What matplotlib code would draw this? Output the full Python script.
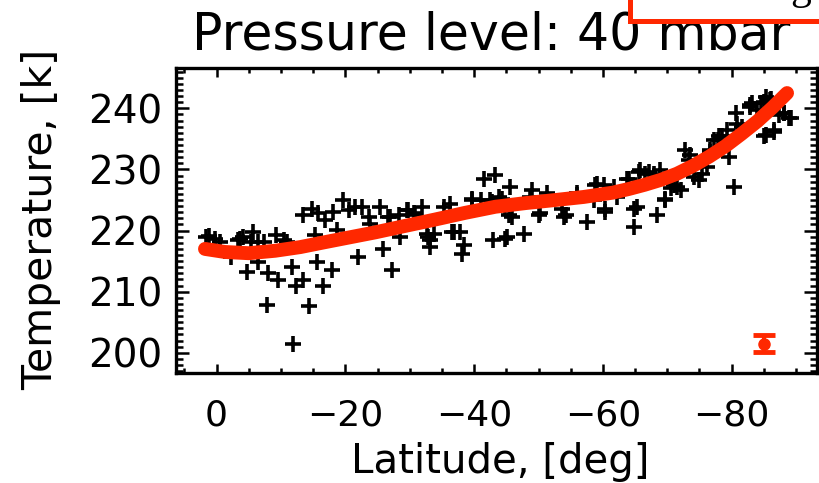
import matplotlib
matplotlib.use("Agg")
import matplotlib.pyplot as plt
from matplotlib.patches import Rectangle
from matplotlib.ticker import MultipleLocator

# Observed temperatures at the 40 mbar level
lat_obs = [1.1, 0.3, -0.6, -2.3, -3.4, -4.1, -5.7, -5.4, -6.5, -7.3,
           -4.7, -6.5, -8.0, -9.6, -7.8, -9.3, -10.4, -10.9, -11.7, -12.4,
           -13.5, -11.9, -14.3, -15.3, -15.6, -16.6, -17.9, -13.5, -14.8, -15.8,
           -16.8, -18.1, -19.7, -20.5, -21.5, -22.6, -23.6, -23.8, -18.7, -22.0,
           -25.4, -25.9, -27.0, -27.2, -28.5, -29.5, -30.6, -31.9, -32.7, -33.2,
           -33.2, -33.7, -35.3, -36.3, -36.8, -37.8, -38.4, -38.1, -39.7, -41.0,
           -41.5, -43.3, -42.5, -43.0, -3.6, 1.6,
           -43.8, -45.6, -44.8, -45.9, -44.8, -47.7, -49.0, -48.7, -50.3, -51.3,
           -53.7, -53.9, -56.0, -57.5, -58.6, -59.1, -60.1, -60.4, -61.7, -62.2,
           -63.8, -64.8, -64.8, -65.6, -66.6, -67.9, -68.9, -68.4, -69.7, -70.5,
           -71.5, -72.1, -72.8, -73.4, -74.1, -74.9, -75.4, -76.2, -76.7, -77.2,
           -78.0, -79.3, -80.3, -79.6, -80.6, -80.9, -81.6, -82.9, -83.2, -84.0,
           -84.5, -85.3, -86.0, -86.6, -85.0, -87.4, -88.1, -88.9,
           -26.7, -28.3, -29.8, -30.8, -32.9, -36.5, -39.7, -42.8, -44.3, -45.1,
           -45.4, -50.0, -54.2, -56.0, -58.8, -60.4,
           -64.0, -65.8, -67.1, -65.3, -69.7, -71.0, -73.6, -76.7, -77.8, -78.5,
           -82.9, -85.0, -86.1, -88.1, -89.2, -85.3, -86.6]
temp_obs = [219.1, 218.6, 218.2, 215.7, 218.4, 219.0, 219.8, 218.1, 218.1, 218.1,
            213.2, 214.9, 213.0, 211.9, 207.8, 219.2, 218.4, 218.1, 214.0, 211.0,
            211.9, 201.5, 207.6, 219.2, 214.9, 211.0, 213.5, 222.5, 223.6, 222.8,
            221.7, 223.1, 225.0, 223.3, 223.9, 223.9, 222.2, 221.1, 220.1, 215.7,
            223.9, 217.0, 222.2, 213.5, 219.0, 223.3, 222.8, 223.9, 219.5, 218.4,
            217.3, 219.5, 223.9, 224.4, 219.8, 219.8, 217.6, 216.2, 225.0, 225.0,
            228.5, 229.1, 225.0, 218.4, 218.7, 219.0,
            225.5, 227.2, 223.9, 222.2, 218.7, 219.5, 226.6, 225.5, 222.8, 226.1,
            223.6, 222.2, 226.1, 221.4, 225.0, 227.7, 227.4, 223.1, 227.2, 225.5,
            228.5, 223.6, 220.6, 229.6, 229.3, 229.3, 229.9, 222.5, 225.0, 226.9,
            227.2, 226.6, 233.2, 231.5, 228.8, 228.2, 229.3, 230.4, 232.9, 234.8,
            235.4, 236.4, 227.2, 232.1, 239.2, 237.5, 237.0, 240.3, 240.8, 239.7,
            240.8, 241.9, 241.4, 236.4, 235.4, 238.9, 239.2, 238.4,
            222.2, 222.5, 223.3, 222.5, 219.0, 219.8, 225.2, 224.7, 225.2, 219.0,
            222.5, 222.5, 222.5, 225.8, 227.4, 223.6,
            228.5, 229.9, 229.6, 223.9, 225.2, 227.4, 232.3, 233.2, 234.8, 235.4,
            240.5, 241.1, 241.6, 239.2, 238.4, 235.6, 236.2]

# Fitted profile
fit_lat = [1.8, -1.3, -5.0, -9.1, -13.0, -16.8, -20.7, -24.6, -29.0, -33.9,
           -38.6, -43.3, -48.0, -52.6, -57.0, -61.5, -64.0, -66.5, -69.0, -71.5,
           -74.0, -76.5, -79.0, -81.5, -84.0, -86.3, -88.6]
fit_temp = [217.0, 216.5, 216.3, 216.7, 217.3, 218.1, 218.9, 219.7, 220.7, 221.8,
            222.9, 223.9, 224.5, 225.0, 225.5, 226.2, 226.8, 227.5, 228.3, 229.3,
            230.6, 232.1, 233.8, 235.8, 237.9, 240.1, 242.5]

# Typical uncertainty
err_lat = [-85.0]
err_temp = [201.5]
err_size = [1.35]

x_ticks = [0, -20, -40, -60, -80]
y_ticks = [200, 210, 220, 230, 240]
title_text = "Pressure level: 40 mbar"
x_title = "Latitude, [deg]"
y_title = "Temperature, [k]"

RED = "#ff2800"
W, H = 819, 483

fig = plt.figure(figsize=(W / 100, H / 100), dpi=100)
ax = fig.add_axes([176 / W, 1 - 373 / H, 641 / W, 305 / H])

ax.plot(lat_obs, temp_obs, ls="none", marker="+", color="black",
        ms=11, mew=2.6, zorder=2)
ax.plot(fit_lat, fit_temp, color=RED, lw=10, solid_capstyle="round",
        solid_joinstyle="round", zorder=3)
ax.errorbar(err_lat, err_temp, yerr=err_size, fmt="o", color=RED, ms=8,
            elinewidth=3, capsize=8, capthick=3.5, zorder=4)

ax.set_xlim(6.3, -93.25)
ax.set_ylim(196.7, 246.6)
ax.set_xticks(x_ticks)
ax.set_yticks(y_ticks)
ax.xaxis.set_minor_locator(MultipleLocator(5))
ax.yaxis.set_minor_locator(MultipleLocator(1))

for s in ax.spines.values():
    s.set_linewidth(2.4)
ax.tick_params(which="both", direction="in", top=True, right=True,
               width=1.8, colors="black")
ax.tick_params(axis="x", which="major", length=6.5, pad=18.5, labelsize=26)
ax.tick_params(axis="x", which="minor", length=3.5)
ax.tick_params(axis="y", which="major", length=9.5, pad=10, labelsize=28)
ax.tick_params(axis="y", which="minor", length=5)
for lab in ax.get_xticklabels() + ax.get_yticklabels():
    lab.set_fontfamily("DejaVu Sans")

fig.text(491 / W, 1 - 50 / H, title_text, ha="center", va="baseline",
         fontsize=36.4, family="DejaVu Sans", zorder=3)
fig.text(500 / W, 1 - 473 / H, x_title, ha="center", va="baseline",
         fontsize=29, family="DejaVu Sans")
fig.text(41 / W, 1 - 219 / H, y_title, ha="center", va="center",
         rotation=90, fontsize=29.4, family="DejaVu Sans")

# Framed caption box in the upper right corner
box = Rectangle((629.5 / W, 1 - 20.5 / H), 0.5, 0.2, transform=fig.transFigure,
                facecolor="white", edgecolor=RED, linewidth=3.6, zorder=5)
fig.add_artist(box)
fig.text(801 / W, 1 + 1 / H, "g", ha="center", va="baseline",
         fontsize=30, family="Liberation Serif", zorder=6)

fig.savefig("out.png", dpi=100)
